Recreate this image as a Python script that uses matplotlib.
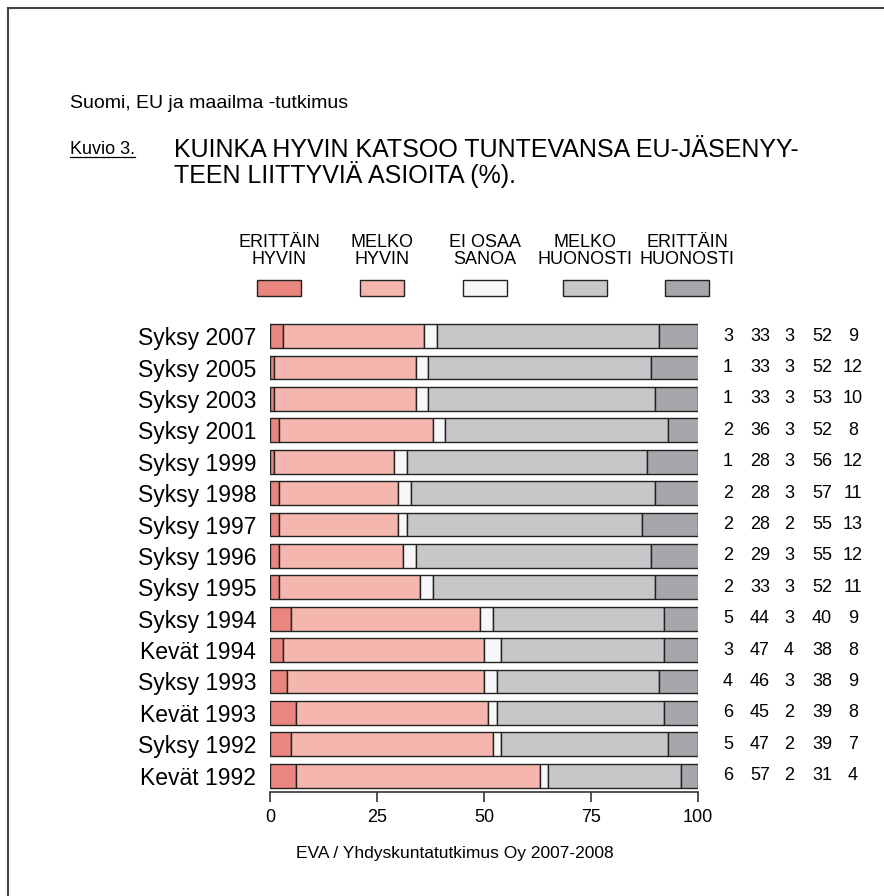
import matplotlib
matplotlib.use("Agg")
from matplotlib import pyplot as plt
from matplotlib.patches import Rectangle
from matplotlib.lines import Line2D

plt.rcParams["font.family"] = ["Liberation Sans", "DejaVu Sans"]

# data
periods = ["Syksy 2007", "Syksy 2005", "Syksy 2003", "Syksy 2001", "Syksy 1999",
           "Syksy 1998", "Syksy 1997", "Syksy 1996", "Syksy 1995", "Syksy 1994",
           "Kevät 1994", "Syksy 1993", "Kevät 1993", "Syksy 1992", "Kevät 1992"]
erittain_hyvin = [3, 1, 1, 2, 1, 2, 2, 2, 2, 5, 3, 4, 6, 5, 6]
melko_hyvin = [33, 33, 33, 36, 28, 28, 28, 29, 33, 44, 47, 46, 45, 47, 57]
ei_osaa = [3, 3, 3, 3, 3, 3, 2, 3, 3, 3, 4, 3, 2, 2, 2]
melko_huonosti = [52, 52, 53, 52, 56, 57, 55, 55, 52, 40, 38, 38, 39, 39, 31]
erittain_huonosti = [9, 12, 10, 8, 12, 11, 13, 12, 11, 9, 8, 9, 8, 7, 4]

series = [erittain_hyvin, melko_hyvin, ei_osaa, melko_huonosti, erittain_huonosti]
labels = ["ERITTÄIN\nHYVIN", "MELKO\nHYVIN", "EI OSAA\nSANOA", "MELKO\nHUONOSTI", "ERITTÄIN\nHUONOSTI"]
colors = ["#E8867F", "#F4B6AE", "#F7F7F7", "#C6C7C9", "#A6A7AB"]

W, H = 884, 896
fig = plt.figure(figsize=(W / 100, H / 100), dpi=100)


def fx(px):
    return px / W


def fy(py):
    return 1 - py / H


# frame lines (top and left)
fig.add_artist(Line2D([fx(8), 1], [fy(8), fy(8)], color="#444444", lw=1.5))
fig.add_artist(Line2D([fx(8), fx(8)], [fy(8), 0], color="#444444", lw=1.5))

# titles
fig.text(fx(70), fy(104), "Suomi, EU ja maailma -tutkimus", fontsize=14, va="center")
kuv = fig.text(fx(70), fy(150), "Kuvio 3.", fontsize=13, va="center")
fig.text(fx(174), fy(149), "KUINKA HYVIN KATSOO TUNTEVANSA EU-JÄSENYY-\nTEEN LIITTYVIÄ ASIOITA (%).",
         fontsize=18, va="top", ha="left", linespacing=0.95,
         position=(fx(174), fy(138)))

# axes
ax = fig.add_axes([fx(270), fy(792), fx(698) - fx(270), fy(322) - fy(792)])
ypos = list(range(len(periods)))
left = [0] * len(periods)
for vals, col in zip(series, colors):
    ax.barh(ypos, vals, left=left, height=0.76, color=col, edgecolor="#222222", linewidth=1)
    left = [a + b for a, b in zip(left, vals)]

ax.set_xlim(0, 100)
ax.set_ylim(14.52, -0.45)
ax.set_yticks(ypos)
ax.set_yticklabels(periods, fontsize=16.5)
ax.tick_params(axis="y", length=0, pad=10)
ax.set_xticks([0, 25, 50, 75, 100])
ax.tick_params(axis="x", length=7, width=1.2, labelsize=13, pad=5, color="#333333")
for s in ["top", "right", "left"]:
    ax.spines[s].set_visible(False)
ax.spines["bottom"].set_linewidth(1.2)
ax.spines["bottom"].set_color("#333333")

# value columns on the right
col_x = [728, 760, 789, 822, 853]
for vals, cx in zip(series, col_x):
    xd = (cx - 270) / 428 * 100
    for i, v in enumerate(vals):
        ax.text(xd, i, str(v), ha="center", va="center", fontsize=13, clip_on=False)

# legend
box_cx = [279, 382, 485, 585, 687]
for lab, col, cx in zip(labels, colors, box_cx):
    fig.add_artist(Rectangle((fx(cx - 22), fy(296)), fx(44), 16 / H, facecolor=col,
                             edgecolor="#222222", linewidth=1))
    fig.text(fx(cx), fy(268), lab, ha="center", va="bottom", fontsize=13, linespacing=1.0)

# footer
fig.text(fx(455), fy(853), "EVA / Yhdyskuntatutkimus Oy 2007-2008", ha="center", va="center", fontsize=12.5)

# underline for "Kuvio 3."
fig.canvas.draw()
bb = kuv.get_window_extent().transformed(fig.transFigure.inverted())
fig.add_artist(Line2D([bb.x0, bb.x1], [bb.y0 + 0.002, bb.y0 + 0.002], color="black", lw=0.9))

fig.savefig("out.png", dpi=100)
